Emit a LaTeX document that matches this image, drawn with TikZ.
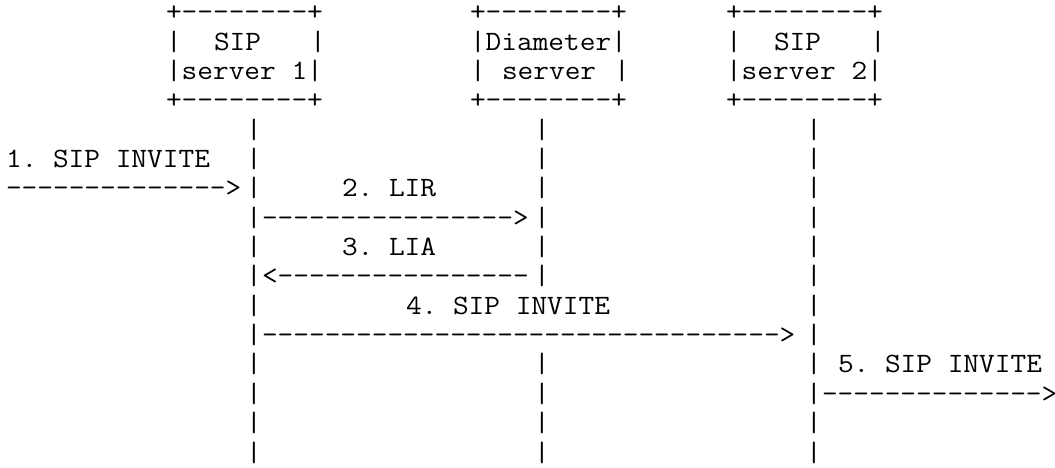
\documentclass[tikz,border=0pt]{standalone}
\usepackage{fontspec}
\usepackage{graphicx}
\newcommand\asctx[4]{\node[asc] (#1) at ({6+16*(#2)},{-20.64-29.36*(#3)}) {\scalebox{1.088}[1]{#4}};}
\begin{document}
\begin{tikzpicture}[x=1pt,y=1pt,
  asc/.style={anchor=base west, inner sep=0pt, outer sep=0pt,
    font=\ttfamily\fontsize{28}{29.36}\selectfont\frenchspacing}]
\useasboundingbox (0,0) rectangle (1055,-467);
% box 1: SIP server 1
\asctx{bA0}{10}{0}{+--------+}
\asctx{bA1l}{10}{1}{|}
\asctx{bA1t}{13}{1}{SIP}
\asctx{bA1r}{19}{1}{|}
\asctx{bA2}{10}{2}{|server 1|}
\asctx{bA3}{10}{3}{+--------+}
% box 2: Diameter server
\asctx{bB0}{29}{0}{+--------+}
\asctx{bB1}{29}{1}{|Diameter|}
\asctx{bB2l}{29}{2}{|}
\asctx{bB2t}{31}{2}{server}
\asctx{bB2r}{38}{2}{|}
\asctx{bB3}{29}{3}{+--------+}
% box 3: SIP server 2
\asctx{bC0}{45}{0}{+--------+}
\asctx{bC1l}{45}{1}{|}
\asctx{bC1t}{48}{1}{SIP}
\asctx{bC1r}{54}{1}{|}
\asctx{bC2}{45}{2}{|server 2|}
\asctx{bC3}{45}{3}{+--------+}
% lifelines
\foreach \r in {4,...,15} {
  \asctx{lA\r}{15}{\r}{|}
  \asctx{lC\r}{50}{\r}{|}
}
\foreach \r in {4,...,9,12,13,14,15} {
  \asctx{lB\r}{33}{\r}{|}
}
% messages
\asctx{m1t}{0}{5}{1. SIP INVITE}
\asctx{m1a}{0}{6}{-------------->}
\asctx{m2t}{21}{6}{2. LIR}
\asctx{m2a}{16}{7}{---------------->}
\asctx{m3t}{21}{8}{3. LIA}
\asctx{m3a}{16}{9}{<----------------}
\asctx{m4t}{25}{10}{4. SIP INVITE}
\asctx{m4a}{16}{11}{--------------------------------->}
\asctx{m5t}{52}{12}{5. SIP INVITE}
\asctx{m5a}{51}{13}{-------------->}
\end{tikzpicture}
\end{document}
